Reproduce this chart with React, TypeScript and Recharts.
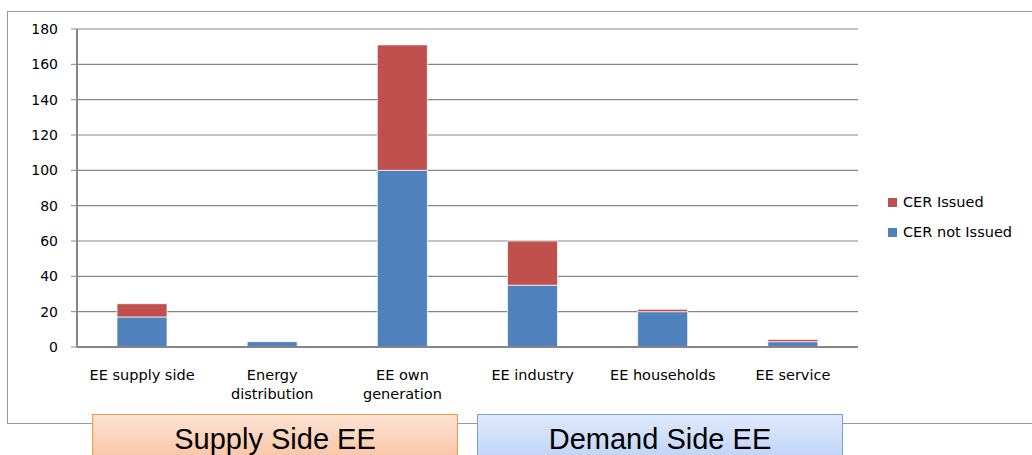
import { BarChart, Bar, XAxis, YAxis, CartesianGrid, Legend, Text } from 'recharts';

const categories = ['EE supply side', 'Energy distribution', 'EE own generation', 'EE industry', 'EE households', 'EE service'];
const cerNotIssued = [17, 3, 100, 35, 20, 3];
const cerIssued = [7.5, 0, 71, 25, 1.3, 1.3];
const yTicks = [0, 20, 40, 60, 80, 100, 120, 140, 160, 180];
const edgeTicks = [0, 1, 2, 3, 4, 5, 6];
const legendOrder = ['CER Issued', 'CER not Issued'];
const groups = ['Supply Side EE', 'Demand Side EE'];

const data = categories.map((name, i) => ({
  name,
  notIssued: cerNotIssued[i],
  issued: cerIssued[i],
}));

const FONT = '"DejaVu Sans", sans-serif';
const GRID = '#868686';

function CategoryTick(props: any) {
  const { x, y, payload } = props;
  return (
    <Text x={x} y={y} width={128} lineHeight={19} textAnchor="middle" verticalAnchor="start"
      style={{ fontFamily: FONT, fontSize: 14.5, fill: '#000' }}>
      {payload.value}
    </Text>
  );
}

function LegendBox(props: any) {
  const items = [...(props.payload || [])].sort(
    (a: any, b: any) => legendOrder.indexOf(a.value) - legendOrder.indexOf(b.value));
  return (
    <div style={{ fontFamily: FONT, fontSize: 14.5, color: '#000' }}>
      {items.map((it: any) => (
        <div key={it.value} style={{ display: 'flex', alignItems: 'center', height: 30 }}>
          <div style={{ width: 9, height: 9, background: it.color, marginRight: 6 }} />
          {it.value}
        </div>
      ))}
    </div>
  );
}

export default function App() {
  return (
    <div style={{ position: 'absolute', left: 0, top: 0, width: 1032, height: 455, overflow: 'hidden', background: '#fff' }}>
      <div style={{ position: 'absolute', left: 7, top: 11, width: 1040, height: 411, border: '1px solid #999' }} />
      <div style={{ position: 'absolute', left: 0, top: 0 }}>
        <BarChart width={1032} height={455} data={data} margin={{ top: 29, right: 34, bottom: 0, left: 0 }}>
          <CartesianGrid xAxisId="names" vertical={false} stroke={GRID} strokeWidth={1.2} />
          <XAxis xAxisId="base" type="number" domain={[0, 6]} ticks={edgeTicks} tick={false}
            tickSize={6} height={8} axisLine={{ stroke: GRID, strokeWidth: 2 }} tickLine={{ stroke: GRID, strokeWidth: 1.5 }} />
          <XAxis xAxisId="names" dataKey="name" axisLine={false} tickLine={false} tickSize={0}
            tickMargin={15} height={100} interval={0} tick={<CategoryTick />} />
          <YAxis domain={[0, 180]} ticks={yTicks} width={77} tickSize={6} tickMargin={13}
            axisLine={{ stroke: GRID, strokeWidth: 2 }} tickLine={{ stroke: GRID }}
            tick={{ fontFamily: FONT, fontSize: 14, fill: '#000' }} />
          <Legend layout="vertical" align="right" verticalAlign="top" content={<LegendBox />}
            wrapperStyle={{ left: 888, top: 187, width: 140 }} />
          <Bar xAxisId="names" dataKey="notIssued" name="CER not Issued" stackId="a" fill="#4F81BD"
            stroke="#ffffff" strokeOpacity={0.7} barSize={50} isAnimationActive={false} />
          <Bar xAxisId="names" dataKey="issued" name="CER Issued" stackId="a" fill="#C0504D"
            stroke="#ffffff" strokeOpacity={0.7} barSize={50} isAnimationActive={false} />
        </BarChart>
      </div>
      {groups.map((g, i) => (
        <div key={g} style={{
          position: 'absolute', left: i === 0 ? 92 : 477, top: 414, width: 364, height: 60,
          border: `1px solid ${i === 0 ? '#F79646' : '#7BA0D9'}`,
          background: i === 0
            ? 'linear-gradient(#FDE3D3, #F9B994)'
            : 'linear-gradient(#DFE9FC, #B4CBF5)',
          fontFamily: '"Liberation Sans", Arial, sans-serif', fontSize: 29, color: '#000',
          textAlign: 'center', lineHeight: '48px',
        }}>{g}</div>
      ))}
    </div>
  );
}
